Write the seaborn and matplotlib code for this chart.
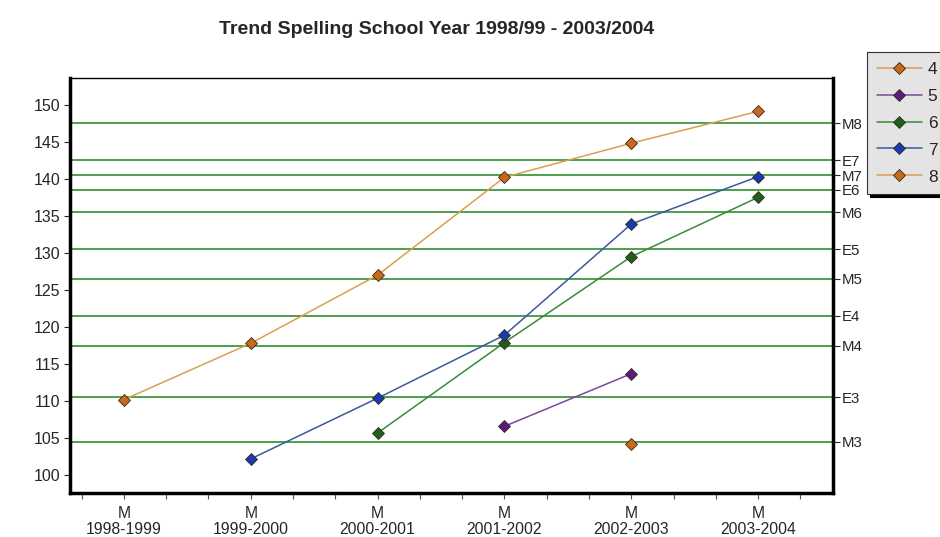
import numpy as np
import pandas as pd
import matplotlib
matplotlib.use("Agg")
import matplotlib.pyplot as plt
from matplotlib.ticker import MultipleLocator
import seaborn as sns

# school years on the x axis
years = ['1998-1999', '1999-2000', '2000-2001', '2001-2002', '2002-2003', '2003-2004']

# spelling scores per group (nan = no measurement)
grade4 = [np.nan, np.nan, np.nan, np.nan, 104.2, np.nan]
grade5 = [np.nan, np.nan, np.nan, 106.6, 113.7, np.nan]
grade6 = [np.nan, np.nan, 105.7, 117.9, 129.5, 137.5]
grade7 = [np.nan, 102.2, 110.4, 118.9, 133.9, 140.3]
grade8 = [110.2, 117.8, 127.0, 140.2, 144.8, 149.1]

# norm levels shown on the right axis
norm_labels = ['M3', 'E3', 'M4', 'E4', 'M5', 'E5', 'M6', 'E6', 'M7', 'E7', 'M8']
norm_values = [104.5, 110.5, 117.5, 121.5, 126.5, 130.5, 135.5, 138.5, 140.5, 142.5, 147.5]

sns.set_style('white')
plt.rcParams['font.family'] = ['Liberation Sans', 'DejaVu Sans']

x = np.arange(len(years))
series = [
    ('4', grade4, '#d9a050', '#c8691f'),
    ('5', grade5, '#7a4a9a', '#5a1a82'),
    ('6', grade6, '#3a8a3a', '#1e5e1e'),
    ('7', grade7, '#3a5a9a', '#1a3ab4'),
    ('8', grade8, '#d9a050', '#c8691f'),
]

fig = plt.figure(figsize=(9.4, 5.37), dpi=100)
ax = fig.add_axes([70 / 940, 1 - 493 / 537, (833 - 70) / 940, (493 - 78) / 537])

for v in norm_values:
    ax.axhline(v, color='#2f8f2f', lw=1.2, zorder=1)

for name, vals, lc, mc in series:
    df = pd.DataFrame({'year': x, 'score': vals}).dropna()
    sns.lineplot(data=df, x='year', y='score', ax=ax, color=lc, lw=1.1,
                 marker='D', markersize=6.5, markerfacecolor=mc,
                 markeredgecolor='#3a2a10', markeredgewidth=0.6,
                 label=name, zorder=3)

ax.set_xlim(-0.425, 5.59)
ax.set_ylim(97.6, 153.6)
ax.set_xticks(x)
ax.set_xticklabels(['M\n' + y for y in years], fontsize=11.3, linespacing=1.15)
ax.xaxis.set_minor_locator(MultipleLocator(1 / 3))
ax.set_yticks(np.arange(100, 151, 5))
ax.tick_params(axis='y', labelsize=11.5, length=4, width=0.8, direction='out',
               left=True, pad=3)
ax.tick_params(axis='x', which='both', length=4, width=0.8, direction='out',
               bottom=True, color='#555555', pad=5)
ax.set_xlabel('')
ax.set_ylabel('')

for side in ['left', 'bottom', 'right']:
    ax.spines[side].set_linewidth(2.5)
    ax.spines[side].set_color('black')
ax.spines['top'].set_linewidth(1.0)
ax.spines['top'].set_color('black')

ax2 = ax.twinx()
ax2.set_ylim(ax.get_ylim())
ax2.set_yticks(norm_values)
ax2.set_yticklabels(norm_labels, fontsize=10.8)
ax2.tick_params(axis='y', length=5, width=0.8, direction='out', right=True, pad=1)
for side in ['left', 'bottom', 'top', 'right']:
    ax2.spines[side].set_visible(False)

ax.get_legend().remove()
handles, labels = ax.get_legend_handles_labels()
leg = fig.legend(handles, labels, loc='upper left',
                 bbox_to_anchor=(867 / 940, 1 - 52 / 537), fontsize=12.5,
                 handlelength=2.6, handletextpad=0.35, labelspacing=0.68,
                 borderpad=0.55, borderaxespad=0, fancybox=False, frameon=True,
                 shadow={'color': 'black', 'alpha': 1})
leg.get_frame().set_facecolor('#e4e4e4')
leg.get_frame().set_edgecolor('#333333')
leg.get_frame().set_linewidth(0.8)

fig.text(437 / 940, 1 - 29 / 537, 'Trend Spelling School Year 1998/99 - 2003/2004',
         ha='center', va='center', fontsize=14, fontweight='bold')

fig.savefig('out.png', dpi=100)
